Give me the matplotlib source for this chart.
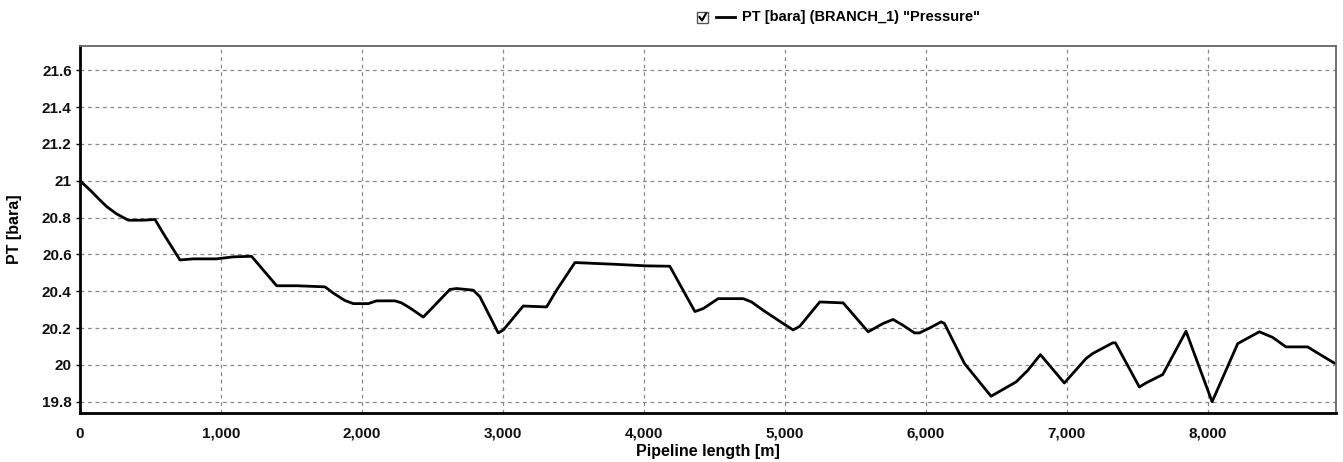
import matplotlib
matplotlib.use("Agg")
import matplotlib.pyplot as plt
from matplotlib.ticker import FuncFormatter, MultipleLocator
from matplotlib.lines import Line2D
from matplotlib.patches import Rectangle

plt.rcParams['font.family'] = ['Liberation Sans Narrow', 'Liberation Sans', 'DejaVu Sans']

# pipeline length [m] and pressure [bara]
length = [0, 71, 142, 189, 260, 343, 449, 532, 591, 709, 803, 969, 1087, 1217,
          1395, 1537, 1738, 1797, 1879, 1939, 2045, 2104, 2234, 2281, 2340, 2435,
          2494, 2624, 2672, 2790, 2837, 2967, 3003, 3144, 3310, 3381, 3511, 3783,
          4019, 4184, 4362, 4421, 4527, 4705, 4764, 4846, 4988, 5059, 5106, 5248,
          5414, 5591, 5697, 5768, 5837, 5920, 5955, 6026, 6109, 6132, 6274, 6463,
          6641, 6723, 6813, 6983, 7137, 7184, 7326, 7345, 7515, 7562, 7681, 7846,
          8031, 8213, 8366, 8460, 8555, 8709, 8768, 8898, 8910]
pressure = [21.0, 20.95, 20.895, 20.86, 20.82, 20.786, 20.786, 20.79, 20.714, 20.57,
            20.576, 20.576, 20.587, 20.59, 20.43, 20.43, 20.424, 20.39, 20.35, 20.333,
            20.333, 20.348, 20.348, 20.337, 20.31, 20.26, 20.306, 20.41, 20.415, 20.406,
            20.37, 20.174, 20.19, 20.32, 20.315, 20.406, 20.556, 20.547, 20.538, 20.536,
            20.29, 20.306, 20.36, 20.36, 20.342, 20.297, 20.225, 20.19, 20.21, 20.342,
            20.337, 20.18, 20.225, 20.247, 20.216, 20.174, 20.174, 20.2, 20.234, 20.225,
            20.008, 19.83, 19.908, 19.97, 20.056, 19.902, 20.035, 20.062, 20.12, 20.12,
            19.88, 19.902, 19.948, 20.183, 19.8, 20.116, 20.18, 20.15, 20.098, 20.098,
            20.07, 20.01, 20.01]

W, H = 1343, 462
fig = plt.figure(figsize=(W / 100, H / 100), dpi=100)
ax = fig.add_axes([80 / W, 1 - 413 / H, (1336 - 80) / W, (413 - 46) / H])

ax.plot(length, pressure, color="black", lw=2)

ax.set_xlim(0, 8910)
ax.set_ylim(19.739, 21.732)
ax.xaxis.set_major_locator(MultipleLocator(1000))
ax.yaxis.set_major_locator(MultipleLocator(0.2))
ax.xaxis.set_major_formatter(FuncFormatter(lambda v, p: f"{int(v):,}"))
ax.yaxis.set_major_formatter(FuncFormatter(lambda v, p: f"{v:.1f}".rstrip('0').rstrip('.')))

ax.grid(True, color="#888888", linestyle=(0, (3, 3)), lw=0.9)
ax.set_axisbelow(True)

for s in ["left", "bottom"]:
    ax.spines[s].set_linewidth(2)
    ax.spines[s].set_color("black")
for s in ["top", "right"]:
    ax.spines[s].set_linewidth(1.3)
    ax.spines[s].set_color("#666666")

ax.tick_params(axis="both", length=3, width=1, labelsize=11, colors="black")
ax.tick_params(axis="x", length=0, pad=10)
ax.tick_params(axis="y", pad=3)
for lab in ax.get_xticklabels() + ax.get_yticklabels():
    lab.set_fontweight("bold")
    lab.set_color("#111111")

ax.set_xlabel("Pipeline length [m]", fontsize=11.5, fontweight="bold", labelpad=2)
ax.set_ylabel("PT [bara]", fontsize=11.5, fontweight="bold")
ax.yaxis.set_label_coords(-0.046, 0.5)

# legend at the top
fig.patches.append(Rectangle((697 / W, 1 - 23 / H), 11 / W, 11 / H, transform=fig.transFigure,
                             fill=False, edgecolor="#555555", lw=1))
fig.lines.append(Line2D([699.5 / W, 702 / W, 706 / W], [1 - 17 / H, 1 - 20.5 / H, 1 - 13.5 / H],
                        transform=fig.transFigure, color="black", lw=1.5))
fig.lines.append(Line2D([716 / W, 735 / W], [1 - 17 / H, 1 - 17 / H],
                        transform=fig.transFigure, color="black", lw=2))
fig.text(742 / W, 1 - 17 / H, 'PT [bara] (BRANCH_1) "Pressure"', fontsize=10.5,
         fontweight="bold", va="center", ha="left")

fig.savefig("out.png", dpi=100)
